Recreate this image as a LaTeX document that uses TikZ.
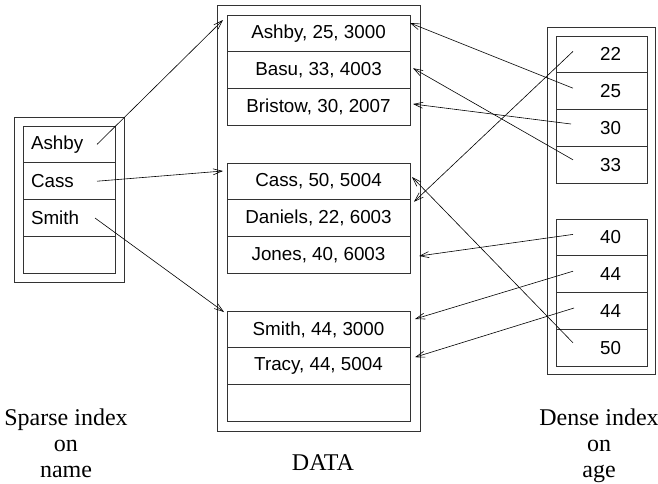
\documentclass[tikz,border=0pt]{standalone}
\usepackage{fontspec}
\setmainfont{Liberation Serif}
\setsansfont{Liberation Sans}
\usetikzlibrary{arrows.meta, positioning, fit}

\begin{document}
\begin{tikzpicture}[
    x=1pt, y=-1pt,
    cell/.style={rectangle, draw=black!80, line width=0.9pt, minimum height=36.8pt, inner sep=0pt, outer sep=0pt, font=\sffamily\fontsize{18.8}{22}\selectfont},
    namecell/.style={cell, text width=76pt, inner xsep=8pt, align=left},
    reccell/.style={cell, minimum width=183pt},
    agecell/.style={cell, text width=39pt, inner xsep=26pt, align=right},
    frame/.style={rectangle, draw=black!80, line width=0.9pt, outer sep=0pt},
    ptr/.style={-{Straight Barb[length=9pt,width=6pt]}, line width=0.6pt},
    caption/.style={font=\fontsize{24}{26}\selectfont, align=center, inner sep=0pt}
]
\useasboundingbox (0,0) rectangle (658,483);

% sparse index on name
\node[namecell, anchor=north west] (ashby) at (23,126) {Ashby};
\node[namecell, below=0pt of ashby] (cass) {Cass};
\node[namecell, below=0pt of cass] (smith) {Smith};
\node[namecell, below=0pt of smith] (blankname) {};
\node[frame, fit=(ashby)(blankname), inner sep=9pt] (sparse) {};

% data records
\node[reccell, anchor=north west] (ashbyrec) at (227,15) {Ashby, 25, 3000};
\node[reccell, below=0pt of ashbyrec] (basurec) {Basu, 33, 4003};
\node[reccell, below=0pt of basurec] (bristowrec) {Bristow, 30, 2007};
\node[reccell, anchor=north west] (cassrec) at (227,163) {Cass, 50, 5004};
\node[reccell, below=0pt of cassrec] (danielsrec) {Daniels, 22, 6003};
\node[reccell, below=0pt of danielsrec] (jonesrec) {Jones, 40, 6003};
\node[reccell, anchor=north west] (smithrec) at (227,311) {Smith, 44, 3000};
\node[reccell, below=0pt of smithrec] (tracyrec) {Tracy, 44, 5004};
\node[reccell, below=0pt of tracyrec] (blankrec) {};
\node[frame, fit=(ashbyrec)(blankrec), inner sep=10pt] (data) {};

% dense index on age
\node[agecell, anchor=north west] (age22) at (556,36) {22};
\node[agecell, below=0pt of age22] (age25) {25};
\node[agecell, below=0pt of age25] (age30) {30};
\node[agecell, below=0pt of age30] (age33) {33};
\node[agecell, anchor=north west] (age40) at (556,219) {40};
\node[agecell, below=0pt of age40] (age44) {44};
\node[agecell, below=0pt of age44] (age44b) {44};
\node[agecell, below=0pt of age44b] (age50) {50};
\node[frame, fit=(age22)(age50), inner sep=8.5pt] (dense) {};

% captions
\node[caption, anchor=north] (sparsecap) at (66,409) {Sparse index\\on\\name};
\node[caption, anchor=base] (datacap) at (323,470) {DATA};
\node[caption, anchor=north] (densecap) at (599,409) {Dense index\\on\\age};

% pointers from the sparse index
\draw[ptr] ([xshift=-18pt]ashby.east) -- ([shift={(-4,5)}]ashbyrec.north west);
\draw[ptr] ([xshift=-18pt]cass.east) -- ([shift={(-4,8)}]cassrec.north west);
\draw[ptr] ([xshift=-20pt]smith.east) -- ([shift={(-3,1)}]smithrec.north west);

% pointers from the dense index
\draw[ptr] ([shift={(17,-3)}]age22.west) -- ([shift={(4,2)}]danielsrec.north east);
\draw[ptr] ([shift={(17,-3)}]age25.west) -- ([shift={(0,8)}]ashbyrec.north east);
\draw[ptr] ([shift={(15,-4)}]age30.west) -- ([shift={(3,-3)}]bristowrec.east);
\draw[ptr] ([shift={(17,-5)}]age33.west) -- ([shift={(3,-2)}]basurec.east);
\draw[ptr] ([shift={(17,-3)}]age40.west) -- ([shift={(9,1)}]jonesrec.east);
\draw[ptr] ([shift={(17,-3)}]age44.west) -- ([shift={(5,8)}]smithrec.north east);
\draw[ptr] ([shift={(18,-3)}]age44b.west) -- ([shift={(5,-9)}]tracyrec.east);
\draw[ptr] ([shift={(17,-5)}]age50.west) -- ([shift={(2,14)}]cassrec.north east);
\end{tikzpicture}
\end{document}
